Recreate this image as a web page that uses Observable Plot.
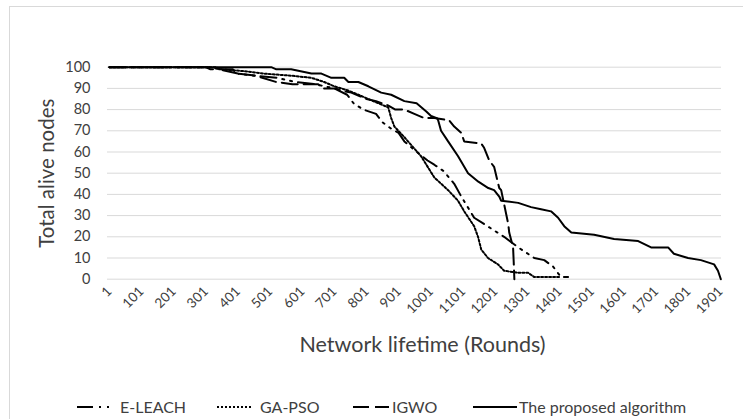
<!DOCTYPE html>
<html>
<head>
<meta charset="utf-8">
<script src="https://cdn.jsdelivr.net/npm/d3@7"></script>
<script src="https://cdn.jsdelivr.net/npm/@observablehq/plot@0.6"></script>
<style>
  html, body { margin: 0; padding: 0; background: #fff; }
  #wrap { position: relative; width: 743px; height: 419px; overflow: hidden; background: #fff; font-family: Lato, "Open Sans", sans-serif; color: #404040; }
  #border { position: absolute; left: 9px; top: 6px; width: 760px; height: 440px; border-left: 1px solid #d9d9d9; border-top: 1px solid #d9d9d9; pointer-events: none; }
  #chart { position: absolute; left: 0; top: 0; }
  #legend { position: absolute; left: 0; top: 390px; width: 743px; height: 29px; }
  .item { position: absolute; top: 8px; height: 18px; line-height: 18px; font-size: 16px; white-space: nowrap; }
</style>
</head>
<body>
<div id="wrap">
  <div id="chart"></div>
  <div id="legend"></div>
  <div id="border"></div>
</div>
<script>
// ---- data ----
const seriesNames = ["E-LEACH", "GA-PSO", "IGWO", "The proposed algorithm"];

const eleachRounds = [1,320,340,400,450,520,580,640,700,740,760,790,830,850,877,900,918,949,990,1011,1040,1073,1095,1135,1166,1197,1228,1272,1322,1353,1380,1395,1405,1427];
const eleachAlive  = [100,100,99,97,96,95,93,92,90,87,83,80,78,74,71,69,65,61,56,54,51,45,39,29,26,23,20,15,10,9,6,3,1,1];

const gapsoRounds = [1,330,350,430,480,566,629,669,700,743,775,806,837,868,877,887,918,970,1011,1054,1085,1104,1135,1147,1157,1178,1209,1228,1272,1303,1322,1405];
const gapsoAlive  = [100,100,99,98,97,96,95,93,91,89,87,85,83,81,76,72,67,58,48,42,37,32,25,20,14,10,7,4,3,3,1,1];

const igwoRounds = [1,300,315,385,395,455,520,570,650,665,705,720,753,800,830,867,890,918,949,980,1011,1057,1073,1095,1104,1157,1166,1182,1197,1213,1219,1241,1244,1256,1258,1260];
const igwoAlive  = [100,100,99,99,97,96,93,92,92,90,90,89,88,85,84,82,80,80,78,76,76,75,72,69,65,64,62,56,53,43,42,26,22,15,8,0];

const proposedRounds = [1,504,520,566,629,660,691,731,744,775,806,846,877,918,956,987,1001,1019,1023,1032,1054,1085,1116,1148,1179,1197,1213,1219,1272,1312,1343,1374,1396,1415,1437,1508,1570,1645,1685,1738,1756,1800,1840,1881,1893,1902];
const proposedAlive  = [100,100,99,99,97,97,95,95,93,93,91,88,87,84,83,79,77,76,75,70,65,58,50,46,43,42,39,37,36,34,33,32,29,25,22,21,19,18,15,15,12,10,9,7,4,0];

const xTicks = [1,101,201,301,401,501,601,701,801,901,1001,1101,1201,1301,1401,1501,1601,1701,1801,1901];
const yTicks = [0,10,20,30,40,50,60,70,80,90,100];

const xTitle = "Network lifetime (Rounds)";
const yTitle = "Total alive nodes";

// ---- build ----
function rows(name, rs, vs) { return rs.map((r, i) => ({series: name, round: r, alive: vs[i]})); }
const data = [
  rows(seriesNames[0], eleachRounds, eleachAlive),
  rows(seriesNames[1], gapsoRounds, gapsoAlive),
  rows(seriesNames[2], igwoRounds, igwoAlive),
  rows(seriesNames[3], proposedRounds, proposedAlive)
];
const dashes = ["16,6,2,6,2,6", "2,2", "16,6", null];

const W = 743, H = 390;
const chart = Plot.plot({
  width: W, height: H,
  marginLeft: 107, marginRight: 22, marginTop: 66.7, marginBottom: H - 278.7,
  x: {domain: [-5, 1904]},
  y: {domain: [0, 100]},
  style: {fontFamily: "Lato, 'Open Sans', sans-serif", color: "#404040", background: "transparent", overflow: "visible"},
  marks: [
    Plot.gridY(yTicks, {stroke: "#d9d9d9", strokeOpacity: 1, strokeWidth: 1}),
    Plot.axisY(yTicks, {tickSize: 0, tickPadding: 17, fontSize: 14.5, label: null}),
    Plot.axisX(xTicks, {tickSize: 0, tickRotate: -45, tickPadding: 10, fontSize: 13.5, label: null, tickFormat: d => String(d)}),
    ...data.map((d, i) => Plot.line(d, {
      x: "round", y: "alive", stroke: "#000", strokeWidth: 2,
      strokeDasharray: dashes[i] || undefined, strokeLinejoin: "miter"
    })),
    Plot.text([xTitle], {frameAnchor: "bottom", dy: 73, dx: 8, fontSize: 21.5, fill: "#404040"}),
    Plot.text([yTitle], {frameAnchor: "left", dx: -60, rotate: -90, textAnchor: "middle", fontSize: 20.5, fill: "#404040"})
  ]
});
document.getElementById("chart").appendChild(chart);

// legend
const legendPos = [
  {sx: 77, sw: 34, tx: 120},
  {sx: 217, sw: 35, tx: 260},
  {sx: 353, sw: 36, tx: 392},
  {sx: 473, sw: 44, tx: 519}
];
const legend = document.getElementById("legend");
seriesNames.forEach((name, i) => {
  const p = legendPos[i];
  const sw = document.createElementNS("http://www.w3.org/2000/svg", "svg");
  sw.setAttribute("width", p.sw); sw.setAttribute("height", 18);
  sw.style.position = "absolute"; sw.style.left = p.sx + "px"; sw.style.top = "8px";
  const ln = document.createElementNS("http://www.w3.org/2000/svg", "line");
  ln.setAttribute("x1", 0); ln.setAttribute("x2", p.sw); ln.setAttribute("y1", 9); ln.setAttribute("y2", 9);
  ln.setAttribute("stroke", "#000"); ln.setAttribute("stroke-width", 2);
  if (dashes[i]) ln.setAttribute("stroke-dasharray", dashes[i]);
  sw.appendChild(ln);
  legend.appendChild(sw);
  const t = document.createElement("div");
  t.className = "item"; t.style.left = p.tx + "px"; t.textContent = name;
  legend.appendChild(t);
});
</script>
</body>
</html>
